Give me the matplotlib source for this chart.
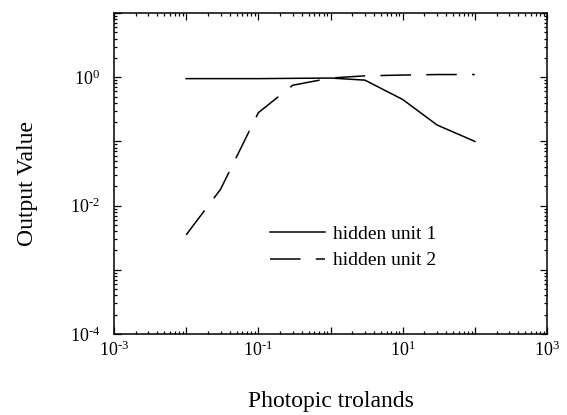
import numpy as np
import matplotlib
matplotlib.use("Agg")
import matplotlib.pyplot as plt
from matplotlib.ticker import LogLocator, FuncFormatter, NullFormatter

plt.rcParams['font.family'] = ['Liberation Serif', 'DejaVu Serif']
plt.rcParams['mathtext.fontset'] = 'custom'
plt.rcParams['mathtext.rm'] = 'Liberation Serif'

# Data
trolands = [0.01, 0.03, 0.1, 0.3, 1, 3, 10, 30, 100]
hidden_unit_1 = [0.95, 0.95, 0.95, 0.96, 0.97, 0.9, 0.45, 0.18, 0.1]
hidden_unit_2 = [0.0035, 0.018, 0.28, 0.75, 0.97, 1.05, 1.08, 1.1, 1.1]
series_labels = ["hidden unit 1", "hidden unit 2"]

fig = plt.figure(figsize=(5.67, 4.15), dpi=100)
ax = fig.add_axes([114 / 567, 1 - 334 / 415, 433 / 567, 321 / 415])

ax.plot(trolands, hidden_unit_1, color='black', lw=1.1, label=series_labels[0])
ax.plot(trolands, hidden_unit_2, color='black', lw=1.1, dashes=(20, 10),
        label=series_labels[1])

ax.set_xscale('log')
ax.set_yscale('log')
ax.set_xlim(1e-3, 1e3)
ax.set_ylim(1e-4, 1e1)


def power_label(e):
    # hyphen-style minus like the original typesetting
    if e < 0:
        return r'$\mathdefault{10^{\text{-}%d}}$' % (-e)
    return r'$\mathdefault{10^{%d}}$' % e


def fmt_x(v, pos):
    e = int(round(np.log10(v)))
    return power_label(e) if e % 2 != 0 else ''


def fmt_y(v, pos):
    e = int(round(np.log10(v)))
    return power_label(e) if e % 2 == 0 else ''


for axis, fmt in ((ax.xaxis, fmt_x), (ax.yaxis, fmt_y)):
    axis.set_major_locator(LogLocator(base=10, numticks=20))
    axis.set_minor_locator(LogLocator(base=10, subs=np.arange(2, 10), numticks=20))
    axis.set_major_formatter(FuncFormatter(fmt))
    axis.set_minor_formatter(NullFormatter())

ax.tick_params(which='both', direction='in', top=True, right=True, width=0.9)
ax.tick_params(which='major', length=5)
ax.tick_params(which='minor', length=2.5)
ax.tick_params(axis='x', labelsize=13, pad=5)
ax.tick_params(axis='y', labelsize=13, pad=10)
for sp in ax.spines.values():
    sp.set_linewidth(1.1)

ax.set_xlabel('Photopic trolands', fontsize=17, labelpad=22)
ax.set_ylabel('Output Value', fontsize=17)
ax.yaxis.set_label_coords(-0.175, 0.47)

ax.legend(loc='center left', bbox_to_anchor=((270 - 114) / 433, 1 - (247.5 - 13) / 321),
          frameon=False, fontsize=14, handlelength=2.85, handletextpad=0.4,
          labelspacing=0.45, borderpad=0, borderaxespad=0)

fig.savefig('out.png', dpi=100)
